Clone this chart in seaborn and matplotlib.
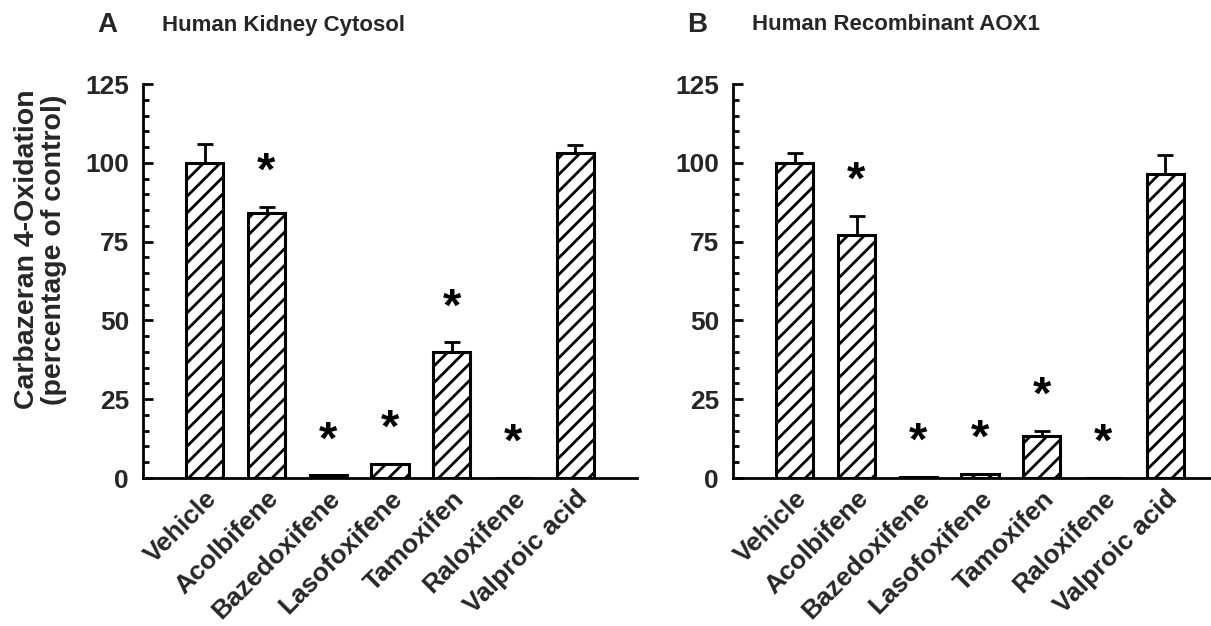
import matplotlib
matplotlib.use("Agg")
import matplotlib.pyplot as plt
from matplotlib.ticker import MultipleLocator
import seaborn as sns
import numpy as np

# data
treatments = ["Vehicle", "Acolbifene", "Bazedoxifene", "Lasofoxifene",
              "Tamoxifen", "Raloxifene", "Valproic acid"]

kidney_mean = [100.0, 84.2, 0.8, 4.5, 40.0, 0.0, 103.0]
kidney_err = [6.0, 1.8, 0.0, 0.0, 3.0, 0.0, 2.5]
kidney_sig = [False, True, True, True, True, True, False]

aox1_mean = [100.0, 77.2, 0.4, 1.2, 13.4, 0.1, 96.6]
aox1_err = [3.0, 6.0, 0.0, 0.0, 1.6, 0.0, 5.8]
aox1_sig = [False, True, True, True, True, True, False]

panels = [
    ("A", "Human Kidney Cytosol", kidney_mean, kidney_err, kidney_sig),
    ("B", "Human Recombinant AOX1", aox1_mean, aox1_err, aox1_sig),
]

sns.set_style("ticks")
plt.rcParams["font.family"] = ["Liberation Sans", "DejaVu Sans"]
plt.rcParams["hatch.linewidth"] = 2.0
plt.rcParams["hatch.color"] = "black"

W, H = 1211, 626
fig = plt.figure(figsize=(W / 100, H / 100), dpi=100)

ax_left = [143, 733]
for i, (letter, title, mean, err, sig) in enumerate(panels):
    x0 = ax_left[i]
    ax = fig.add_axes([x0 / W, 1 - 478 / H, 494 / W, 394 / H])

    sns.barplot(x=treatments, y=mean, ax=ax, color="white",
                edgecolor="black", linewidth=2.2, hatch="//",
                width=0.6, zorder=3)
    pos = np.arange(len(treatments))
    ax.errorbar(pos, mean, yerr=[np.zeros(len(err)), err], fmt="none",
                ecolor="black", elinewidth=2, capsize=6, capthick=2,
                zorder=2)

    # significance markers
    for p, m, e, s in zip(pos, mean, err, sig):
        if s:
            ax.text(p, m + e + 7, "*", ha="center", va="baseline",
                    fontsize=34, fontweight="bold", color="black")

    ax.set_xlim(-1, 7)
    ax.set_ylim(0, 125)
    ax.yaxis.set_major_locator(MultipleLocator(25))
    ax.yaxis.set_minor_locator(MultipleLocator(5))
    ax.tick_params(axis="y", which="major", direction="in", length=7,
                   width=2, labelsize=19, pad=10, color="black")
    ax.tick_params(axis="y", which="minor", direction="in", length=4,
                   width=2, color="black")
    ax.tick_params(axis="x", length=0, pad=6)
    for lab in ax.get_yticklabels():
        lab.set_fontweight("bold")
    ax.set_xticks(pos)
    ax.set_xticklabels(treatments, rotation=45, ha="right", va="top",
                       rotation_mode="anchor", fontsize=19,
                       fontweight="bold")

    sns.despine(ax=ax)
    for side in ["left", "bottom"]:
        ax.spines[side].set_linewidth(2)
        ax.spines[side].set_color("black")
    ax.set_xlabel("")

    if i == 0:
        ax.set_ylabel("Carbazeran 4-Oxidation\n(percentage of control)",
                      fontsize=20.5, fontweight="bold", linespacing=1.05)
        ax.yaxis.set_label_coords(-0.154, 0.58)
    else:
        ax.set_ylabel("")

    fig.text((x0 - 46) / W, 1 - 25 / H, letter, ha="left", va="center",
             fontsize=20, fontweight="bold")
    fig.text((x0 + 19) / W, 1 - 25 / H, title, ha="left", va="center",
             fontsize=16, fontweight="bold")

fig.savefig("out.png", dpi=100)
